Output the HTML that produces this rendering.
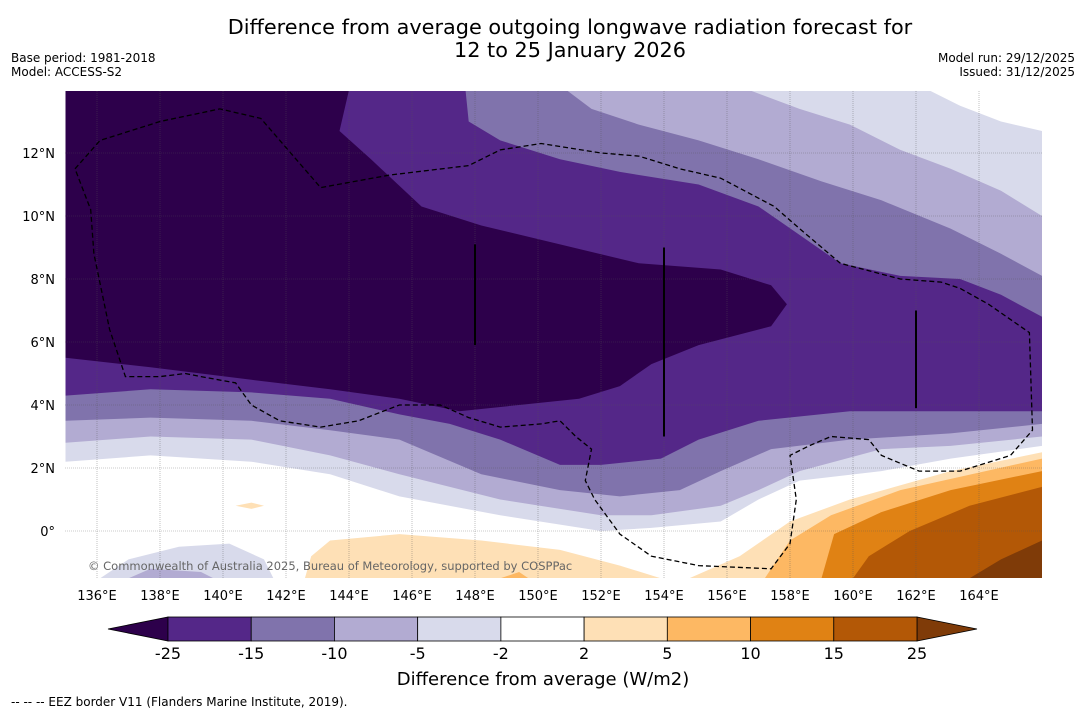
<!DOCTYPE html>
<html><head><meta charset="utf-8">
<style>
body{margin:0;background:#fff;width:1085px;height:713px;overflow:hidden;font-family:"Liberation Sans",sans-serif;}
svg{position:absolute;left:0;top:0}
text{font-family:"DejaVu Sans","Liberation Sans",sans-serif}
</style></head>
<body>
<svg id="chart" width="1085" height="713">
<text x="570" y="34" text-anchor="middle" font-size="20.8">Difference from average outgoing longwave radiation forecast for</text>
<text x="570" y="57" text-anchor="middle" font-size="20.8">12 to 25 January 2026</text>
<text x="11" y="62" font-size="12">Base period: 1981-2018</text>
<text x="11" y="76" font-size="12">Model: ACCESS-S2</text>
<text x="1075" y="62" font-size="12" text-anchor="end">Model run: 29/12/2025</text>
<text x="1075" y="76" font-size="12" text-anchor="end">Issued: 31/12/2025</text>
<defs><clipPath id="mapclip"><rect x="65" y="91" width="977" height="487"/></clipPath></defs>
<g id="map" clip-path="url(#mapclip)"><rect x="65" y="91" width="977" height="487" fill="#fff"/></g>
<g id="axes"></g>
<text x="88" y="570" font-size="11.5" fill="#666">© Commonwealth of Australia 2025, Bureau of Meteorology, supported by COSPPac</text>
<g id="cbar"></g>
<text x="543" y="685" text-anchor="middle" font-size="18">Difference from average (W/m2)</text>
<text x="11" y="706" font-size="12">--  --  -- EEZ border V11 (Flanders Marine Institute, 2019).</text>
</svg>
<script>
const lonTicks=[136,138,140,142,144,146,148,150,152,154,156,158,160,162,164];
const latTicks=[0,2,4,6,8,10,12];
const levels=[-25,-15,-10,-5,-2,2,5,10,15,25];
const bandColors=["#542788","#8073ac","#b2abd2","#d8daeb","#ffffff","#fee0b6","#fdb863","#e08214","#b35806"];
const extendLow="#2d004b", extendHigh="#7f3b08";
const regLt2=[[135,14],[162.4,14],[163.4,13.5],[164.7,13.0],[166,12.7],[166,2.7],[163.1,2.3],[160.9,1.9],[158.3,1.6],[157.0,1.0],[155.8,0.3],[153.6,0.1],[152.0,0.0],[148.8,0.5],[145.6,1.1],[143.4,1.8],[140.9,2.2],[137.7,2.4],[135,2.2]];
const regLt2b=[[136.1,-1.5],[137.0,-0.9],[138.6,-0.5],[140.2,-0.4],[141.3,-0.9],[141.6,-1.5]];
const regLt5=[[135,14],[156.7,14],[158.3,13.4],[159.9,12.9],[161.5,12.1],[163.1,11.5],[164.7,10.8],[166,10.0],[166,3.0],[163.1,2.7],[160.9,2.6],[158.3,1.9],[157.0,1.3],[155.8,0.8],[153.6,0.5],[152.0,0.5],[148.8,1.0],[145.6,1.8],[143.4,2.4],[140.9,2.9],[137.7,3.0],[135,2.8]];
const regLt5b=[[137,-1.5],[137.7,-1.2],[139.3,-1.3],[139.7,-1.5]];
const regLt10=[[135,14],[150.9,14],[151.7,13.4],[153.2,12.9],[155.1,12.4],[157.0,11.8],[159.0,11.1],[160.9,10.5],[163.1,9.6],[164.7,8.8],[166,8.1],[166,3.4],[163.1,3.1],[159.9,2.9],[157.4,2.6],[155.8,1.9],[154.5,1.3],[152.6,1.1],[150.7,1.3],[148.2,1.8],[145.6,2.9],[143.4,3.2],[140.9,3.5],[137.7,3.6],[135,3.5]];
const regLt15=[[135,14],[147.7,14],[147.8,13.0],[148.8,12.4],[150.7,11.8],[152.6,11.4],[155.1,11.0],[157.0,10.3],[158.3,9.4],[159.6,8.5],[161.5,8.1],[163.4,8.0],[164.7,7.5],[166,6.8],[166,3.8],[163.1,3.8],[159.9,3.8],[157.0,3.5],[155.1,2.9],[153.9,2.3],[152.0,2.1],[150.7,2.1],[148.8,2.9],[147.2,3.4],[145.6,3.7],[143.4,4.2],[140.9,4.4],[137.7,4.5],[135,4.3]];
const regLt25=[[135,14],[144,14],[143.7,12.7],[144.7,11.8],[146.3,10.3],[148.2,9.7],[150.7,9.1],[153.2,8.5],[155.8,8.3],[157.4,7.8],[157.9,7.2],[157.4,6.5],[155.1,5.9],[153.6,5.3],[152.6,4.6],[151.3,4.2],[149.4,4.0],[147.5,3.8],[145.6,4.2],[143.4,4.5],[140.9,4.8],[137.7,5.2],[135,5.5]];
const regGt2a=[[142.6,-1.5],[142.8,-0.8],[143.4,-0.3],[145.6,-0.1],[148.2,-0.3],[150.7,-0.6],[152.6,-1.1],[153.9,-1.5]];
const regGt2b=[[154.8,-1.5],[156.4,-0.8],[158.0,0.3],[159.9,1.0],[163.1,1.9],[166,2.5],[166,-1.5]];
const regGt2c=[[140.4,0.8],[140.9,0.9],[141.3,0.8],[140.9,0.7]];
const regGt5=[[157.2,-1.5],[158.0,-0.3],[159.3,0.5],[161.5,1.3],[166,2.3],[166,-1.5]];
const regGt5b=[[148.8,-1.5],[149.4,-1.3],[149.7,-1.5]];
const regGt10=[[159.0,-1.5],[159.4,-0.1],[160.9,0.6],[163.1,1.3],[166,1.9],[166,-1.5]];
const regGt15=[[160.0,-1.5],[160.5,-0.8],[161.8,0.0],[163.7,0.8],[166,1.4],[166,-1.5]];
const regGt25=[[163.7,-1.5],[164.7,-0.9],[166,-0.3],[166,-1.5]];
const eez=[[135.3,11.5],[136.1,12.4],[138.0,13.0],[139.9,13.4],[141.2,13.1],[143.1,10.9],[145.3,11.3],[147.8,11.6],[148.8,12.1],[150.1,12.3],[152.0,12.0],[153.2,11.9],[154.5,11.5],[155.8,11.2],[157.5,10.3],[158.3,9.6],[159.6,8.5],[161.5,8.0],[162.8,7.9],[163.4,7.7],[164.3,7.2],[165.6,6.3],[165.7,3.2],[165.0,2.4],[163.4,1.9],[162.1,1.9],[160.9,2.4],[160.5,2.9],[159.3,3.0],[158.6,2.7],[158.0,2.4],[158.2,1.0],[158.0,-0.4],[157.4,-1.2],[155.1,-1.1],[153.6,-0.8],[152.6,-0.1],[151.8,1.0],[151.5,1.6],[151.7,2.6],[151.2,3.0],[150.7,3.5],[150.1,3.4],[148.8,3.3],[147.8,3.6],[146.9,4.0],[145.6,4.0],[144.3,3.5],[143.1,3.3],[141.8,3.5],[140.9,4.0],[140.4,4.7],[139.3,4.9],[138.8,5.0],[138.0,4.9],[136.9,4.9],[136.4,6.4],[135.9,8.8],[135.8,10.2],[135.3,11.5]];
const ridgeLines=[[148,9.1,5.9],[154,9.0,3.0],[162,7.0,3.9]];

const X=lon=>97+(lon-136)*31.5, Y=lat=>531-lat*31.5;
const NS="http://www.w3.org/2000/svg";
const map=document.getElementById('map'), axes=document.getElementById('axes'), cbar=document.getElementById('cbar');
function pts(a){return a.map(p=>X(p[0]).toFixed(1)+','+Y(p[1]).toFixed(1)).join(' ');}
function poly(parent,a,fill,name){const e=document.createElementNS(NS,'polygon');e.setAttribute('points',pts(a));e.setAttribute('fill',fill);


parent.appendChild(e);return e;}
poly(map,regLt2,"#d8daeb","region-below-minus2");
poly(map,regLt2b,"#d8daeb","region-below-minus2-south");
poly(map,regLt5,"#b2abd2","region-below-minus5");
poly(map,regLt5b,"#b2abd2","region-below-minus5-south");
poly(map,regLt10,"#8073ac","region-below-minus10");
poly(map,regLt15,"#542788","region-below-minus15");
poly(map,regLt25,"#2d004b","region-below-minus25");
poly(map,regGt2a,"#fee0b6","region-above-2-central");
poly(map,regGt2b,"#fee0b6","region-above-2-east");
poly(map,regGt2c,"#fee0b6","region-above-2-small");
poly(map,regGt5,"#fdb863","region-above-5");
poly(map,regGt5b,"#fdb863","region-above-5-small");
poly(map,regGt10,"#e08214","region-above-10");
poly(map,regGt15,"#b35806","region-above-15");
poly(map,regGt25,"#7f3b08","region-above-25");
lonTicks.forEach(l=>{const e=document.createElementNS(NS,'line');e.setAttribute('x1',X(l));e.setAttribute('x2',X(l));e.setAttribute('y1',91);e.setAttribute('y2',578);e.setAttribute('stroke','#555');e.setAttribute('stroke-width','0.6');e.setAttribute('stroke-dasharray','1,1');e.setAttribute('opacity','0.6');


map.appendChild(e);
const t=document.createElementNS(NS,'text');t.setAttribute('x',X(l));t.setAttribute('y',600);t.setAttribute('text-anchor','middle');t.setAttribute('font-size','13');t.textContent=l+'°E';


axes.appendChild(t);});
latTicks.forEach(l=>{const e=document.createElementNS(NS,'line');e.setAttribute('x1',65);e.setAttribute('x2',1042);e.setAttribute('y1',Y(l));e.setAttribute('y2',Y(l));e.setAttribute('stroke','#555');e.setAttribute('stroke-width','0.6');e.setAttribute('stroke-dasharray','1,1');e.setAttribute('opacity','0.6');


map.appendChild(e);
const t=document.createElementNS(NS,'text');t.setAttribute('x',55);t.setAttribute('y',Y(l)+5);t.setAttribute('text-anchor','end');t.setAttribute('font-size','13');t.textContent=l===0?'0°':l+'°N';


axes.appendChild(t);});
ridgeLines.forEach(r=>{const e=document.createElementNS(NS,'line');e.setAttribute('x1',X(r[0]));e.setAttribute('x2',X(r[0]));e.setAttribute('y1',Y(r[1]));e.setAttribute('y2',Y(r[2]));e.setAttribute('stroke','#000');e.setAttribute('stroke-width','2');


map.appendChild(e);});
const pl=document.createElementNS(NS,'polyline');pl.setAttribute('points',pts(eez));pl.setAttribute('fill','none');pl.setAttribute('stroke','#000');pl.setAttribute('stroke-width','1.3');pl.setAttribute('stroke-dasharray','5,3');


map.appendChild(pl);
const CB0=168, CB1=917, cy=617, ch=24;
const CX=i=>CB0+i*(CB1-CB0)/(levels.length-1);
const lt=document.createElementNS(NS,'polygon');lt.setAttribute('points',`108,${cy+ch/2} ${CB0},${cy} ${CB0},${cy+ch}`);lt.setAttribute('fill',extendLow);lt.setAttribute('stroke','#000');lt.setAttribute('stroke-width','0.8');


cbar.appendChild(lt);
const rt=document.createElementNS(NS,'polygon');rt.setAttribute('points',`977,${cy+ch/2} ${CB1},${cy} ${CB1},${cy+ch}`);rt.setAttribute('fill',extendHigh);rt.setAttribute('stroke','#000');rt.setAttribute('stroke-width','0.8');


cbar.appendChild(rt);
bandColors.forEach((c,i)=>{const r=document.createElementNS(NS,'rect');r.setAttribute('x',CX(i));r.setAttribute('y',cy);r.setAttribute('width',CX(i+1)-CX(i));r.setAttribute('height',ch);r.setAttribute('fill',c);r.setAttribute('stroke','#000');r.setAttribute('stroke-width','0.8');


cbar.appendChild(r);});
levels.forEach((v,i)=>{const t=document.createElementNS(NS,'text');t.setAttribute('x',CX(i));t.setAttribute('y',659);t.setAttribute('text-anchor','middle');t.setAttribute('font-size','16');t.textContent=v;


cbar.appendChild(t);});
</script>
</body></html>
